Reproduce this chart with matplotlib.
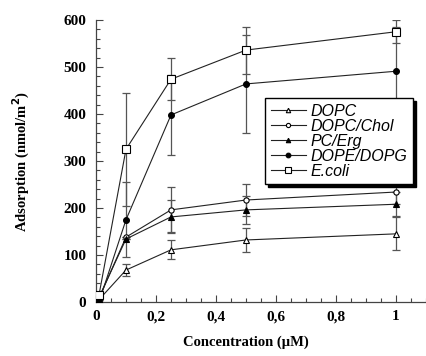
import matplotlib
matplotlib.use("Agg")
import matplotlib.pyplot as plt
from matplotlib.ticker import MultipleLocator, FuncFormatter

# Lipid adsorption vs. peptide concentration
conc = [0.01, 0.1, 0.25, 0.5, 1.0]

dopc = [5, 68, 111, 132, 145]
dopc_err = [0, 12, 20, 25, 35]

dopc_chol = [8, 138, 196, 217, 234]
dopc_chol_err = [0, 0, 48, 35, 25]

pc_erg = [10, 134, 181, 196, 208]
pc_erg_err = [0, 0, 35, 30, 25]

dope_dopg = [0, 175, 398, 464, 491]
dope_dopg_err = [0, 80, 85, 105, 95]

ecoli = [15, 325, 474, 536, 575]
ecoli_err = [0, 120, 45, 50, 25]

series = [
    ("DOPC", dopc, dopc_err, "^", "white", 4),
    ("DOPC/Chol", dopc_chol, dopc_chol_err, "o", "white", 3.8),
    ("PC/Erg", pc_erg, pc_erg_err, "^", "black", 4),
    ("DOPE/DOPG", dope_dopg, dope_dopg_err, "o", "black", 4.2),
    ("E.coli", ecoli, ecoli_err, "s", "white", 5.5),
]

fig = plt.figure(figsize=(4.26, 3.56), dpi=100)
ax = fig.add_axes([96 / 426, 54 / 356, 330 / 426, 282 / 356])

for name, y, err, mk, fc, ms in series:
    ax.errorbar(conc, y, yerr=err, fmt="none", ecolor="#555555",
                elinewidth=0.9, capsize=3, capthick=0.9, zorder=2)
    ax.plot(conc, y, color="#222222", lw=0.8, marker=mk, markersize=ms,
            markerfacecolor=fc, markeredgecolor="black", markeredgewidth=0.8,
            label=name, zorder=3)

ax.set_xlim(0, 1.1)
ax.set_ylim(0, 600)
ax.spines["top"].set_visible(False)
ax.spines["right"].set_visible(False)
for s in ("left", "bottom"):
    ax.spines[s].set_color("#444444")
    ax.spines[s].set_linewidth(0.9)

ax.xaxis.set_major_locator(MultipleLocator(0.2))
ax.xaxis.set_minor_locator(MultipleLocator(0.05))
ax.yaxis.set_major_locator(MultipleLocator(100))
ax.yaxis.set_minor_locator(MultipleLocator(20))


def comma_fmt(v, _pos):
    if abs(v - round(v)) < 1e-9:
        return f"{int(round(v))}"
    return f"{v:.1f}".replace(".", ",")


ax.xaxis.set_major_formatter(FuncFormatter(comma_fmt))
ax.tick_params(which="both", direction="in", color="#444444", width=0.8)
ax.tick_params(which="major", length=5)
ax.tick_params(which="minor", length=3)
ax.tick_params(axis="x", pad=6)
ax.tick_params(axis="y", pad=7)

serif = "Liberation Serif"
for lab in ax.get_xticklabels() + ax.get_yticklabels():
    lab.set_fontfamily(serif)
    lab.set_fontweight("bold")
    lab.set_fontsize(11)

ax.set_xlabel("Concentration (µM)", fontfamily=serif, fontweight="bold",
              fontsize=10.5)
ax.xaxis.set_label_coords(150 / 330, -34 / 282)
ax.set_ylabel("Adsorption (nmol/m$^\\mathbf{2}$)", fontfamily=serif,
              fontweight="bold", fontsize=10.5)
ax.yaxis.set_label_coords(-64 / 330, 0.5)

leg = fig.legend(loc="upper left", bbox_to_anchor=(265 / 426, 1 - 98 / 356),
                 borderaxespad=0, fancybox=False, frameon=True,
                 shadow={"color": "black", "alpha": 1},
                 prop={"family": "Liberation Sans", "style": "italic", "size": 11.5},
                 handlelength=2.2, handletextpad=0.3, labelspacing=0.0,
                 borderpad=0.35, markerscale=0.8)
leg.get_frame().set_edgecolor("black")
leg.get_frame().set_linewidth(1.0)

fig.savefig("out.png", dpi=100)
